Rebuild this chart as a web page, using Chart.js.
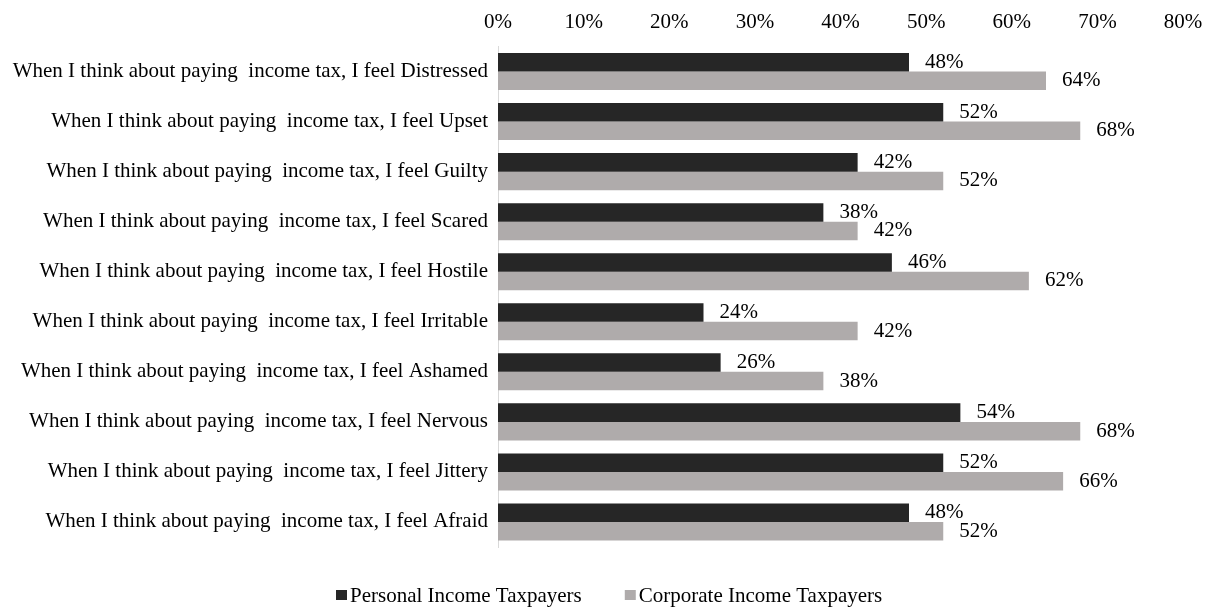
<!DOCTYPE html>
<html><head><meta charset="utf-8">
<script src="https://cdn.jsdelivr.net/npm/chart.js@4/dist/chart.umd.min.js"></script>
<style>html,body{margin:0;padding:0;background:#fff}#wrap{width:1209px;height:607px}</style>
</head><body><div id="wrap"><canvas id="c" width="1209" height="607"></canvas></div>
<script>
const categories = [
  "When I think about paying  income tax, I feel Distressed",
  "When I think about paying  income tax, I feel Upset",
  "When I think about paying  income tax, I feel Guilty",
  "When I think about paying  income tax, I feel Scared",
  "When I think about paying  income tax, I feel Hostile",
  "When I think about paying  income tax, I feel Irritable",
  "When I think about paying  income tax, I feel Ashamed",
  "When I think about paying  income tax, I feel Nervous",
  "When I think about paying  income tax, I feel Jittery",
  "When I think about paying  income tax, I feel Afraid"
];
const personal = [48, 52, 42, 38, 46, 24, 26, 54, 52, 48];
const corporate = [64, 68, 52, 42, 62, 42, 38, 68, 66, 52];
const seriesNames = ["Personal Income Taxpayers", "Corporate Income Taxpayers"];
const seriesColors = ["#262626", "#AFABAB"];
const xTickMax = 80;
const xTickStep = 10;

const FONT = "'Liberation Serif','Times New Roman',serif";
const FSIZE = 21;

const labelPlugin = {
  id: 'valueLabels',
  afterDatasetsDraw(chart) {
    const ctx = chart.ctx;
    ctx.save();
    ctx.font = FSIZE + "px " + FONT;
    ctx.fillStyle = '#000';
    ctx.textBaseline = 'middle';
    ctx.textAlign = 'left';
    chart.data.datasets.forEach((ds, i) => {
      const meta = chart.getDatasetMeta(i);
      meta.data.forEach((bar, j) => {
        ctx.fillText(ds.data[j] + '%', bar.x + 16, bar.y);
      });
    });
    ctx.restore();
  }
};

const legendPlugin = {
  id: 'customLegend',
  afterDraw(chart) {
    const ctx = chart.ctx;
    ctx.save();
    ctx.font = FSIZE + "px " + FONT;
    ctx.textBaseline = 'middle';
    ctx.textAlign = 'left';
    const box = 11, gap = 3, spacing = 43;
    let x = 336;
    const y = 596;
    chart.data.datasets.forEach((d) => {
      ctx.fillStyle = d.backgroundColor;
      ctx.fillRect(x, y - 6, box, 10);
      ctx.fillStyle = '#000';
      ctx.fillText(d.label, x + box + gap, y);
      x += box + gap + ctx.measureText(d.label).width + spacing;
    });
    ctx.restore();
  }
};

new Chart(document.getElementById('c'), {
  type: 'bar',
  data: {
    labels: categories,
    datasets: [
      { label: seriesNames[0], data: personal, backgroundColor: seriesColors[0], borderWidth: 0 },
      { label: seriesNames[1], data: corporate, backgroundColor: seriesColors[1], borderWidth: 0 }
    ]
  },
  options: {
    indexAxis: 'y',
    responsive: false,
    animation: false,
    devicePixelRatio: 1,
    layout: { padding: { top: 0, right: 26, bottom: 60, left: 0 } },
    datasets: { bar: { categoryPercentage: 0.74, barPercentage: 1.0 } },
    scales: {
      x: {
        position: 'top',
        min: 0, max: xTickMax,
        ticks: { stepSize: xTickStep, callback: v => v + '%', color: '#000', font: { family: FONT, size: FSIZE }, padding: 11, maxRotation: 0 },
        grid: { display: false, drawTicks: false },
        border: { display: false },
        afterFit(scale) { scale.height = 46.5; scale.paddingRight = 0; scale.paddingLeft = 0; }
      },
      y: {
        ticks: { color: '#000', font: { family: FONT, size: FSIZE }, padding: 10 },
        grid: { display: false, drawTicks: false },
        border: { display: true, color: '#D9D9D9', width: 1 },
        afterFit(scale) { scale.width = 498; }
      }
    },
    plugins: {
      legend: { display: false },
      tooltip: { enabled: false }
    }
  },
  plugins: [labelPlugin, legendPlugin]
});
</script></body></html>
